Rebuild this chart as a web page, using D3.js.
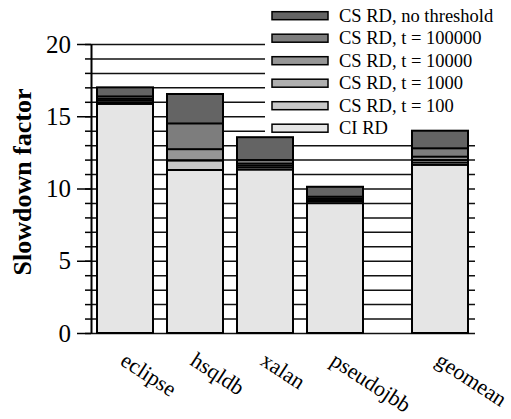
<!DOCTYPE html>
<html>
<head>
<meta charset="utf-8">
<script src="https://cdn.jsdelivr.net/npm/d3@7"></script>
<style>
  body { margin: 0; background: #fff; }
</style>
</head>
<body>
<div id="viz"></div>
<script>
var benchmarks = ["eclipse", "hsqldb", "xalan", "pseudojbb", "geomean"];
var seriesNames = ["CS RD, no threshold", "CS RD, t = 100000", "CS RD, t = 10000",
                   "CS RD, t = 1000", "CS RD, t = 100", "CI RD"];

// slowdown of each configuration (bars are overlaid, tallest at the back)
var noThreshold = [17.0, 16.54, 13.55, 10.12, 14.0];
var t100000     = [16.37, 14.5, 11.97, 9.43, 12.78];
var t10000      = [16.2, 12.72, 11.72, 9.3, 12.2];
var t1000       = [16.08, 11.95, 11.58, 9.2, 11.97];
var t100        = [15.95, 11.93, 11.45, 9.1, 11.79];
var ciRD        = [15.85, 11.28, 11.3, 8.98, 11.63];

var yTicks = [0, 5, 10, 15, 20];

var series = [noThreshold, t100000, t10000, t1000, t100, ciRD];
var colors = ["#646464", "#7d7d7d", "#969696", "#afafaf", "#c8c8c8", "#e5e5e5"];

var FONT = "'Liberation Serif', 'Times New Roman', serif";
var width = 511, height = 419;

var svg = d3.select("#viz").append("svg")
    .attr("width", width)
    .attr("height", height)
    .style("font-family", FONT);

var y = d3.scaleLinear().domain([0, 20]).range([333, 44]);
var x = d3.scaleLinear().domain([-0.5, 5]).range([90, 475]);
var slot = function(i) { return i < 4 ? i : i + 0.5; };   // geomean sits after a half gap
var barW = 56;

// grid lines at every unit
svg.append("g")
    .attr("transform", "translate(91,0)")
    .call(d3.axisRight(y).tickValues(d3.range(0, 21)).tickSize(384).tickFormat(""))
    .call(function(g) { g.select(".domain").remove(); })
    .selectAll("line").attr("stroke", "#111").attr("stroke-width", 1.5);

// minor ticks
svg.append("g")
    .attr("transform", "translate(91,0)")
    .call(d3.axisLeft(y).tickValues(d3.range(0, 21)).tickSize(6).tickFormat(""))
    .call(function(g) { g.select(".domain").remove(); })
    .selectAll("line").attr("stroke-width", 1.5);

// major ticks + labels
var yAxis = svg.append("g")
    .attr("transform", "translate(91,0)")
    .call(d3.axisLeft(y).tickValues(yTicks).tickSize(14).tickSizeOuter(0).tickPadding(6));
yAxis.attr("font-family", null);
yAxis.select(".domain").attr("stroke-width", 2);
yAxis.selectAll("line").attr("stroke-width", 1.5);
yAxis.selectAll("text")
    .style("font-family", FONT)
    .style("font-size", "25px");

svg.append("text")
    .attr("transform", "translate(31,182) rotate(-90)")
    .attr("text-anchor", "middle")
    .style("font-family", FONT)
    .style("font-size", "26px")
    .style("font-weight", "bold")
    .text("Slowdown factor");

// legend background hides the grid
var legend = svg.append("g");
legend.append("rect")
    .attr("x", 265).attr("y", 0)
    .attr("width", 246).attr("height", 137)
    .attr("fill", "#fff");

// bars
series.forEach(function(vals, s) {
    svg.append("g").selectAll("rect")
        .data(vals)
        .enter().append("rect")
            .attr("x", function(d, i) { return x(slot(i)) - barW / 2; })
            .attr("y", function(d) { return y(d); })
            .attr("width", barW)
            .attr("height", function(d) { return y(0) - y(d); })
            .attr("fill", colors[s])
            .attr("stroke", "#000")
            .attr("stroke-width", 2);
});

// legend entries
var entries = legend.selectAll("g.entry")
    .data(seriesNames)
    .enter().append("g")
        .attr("class", "entry")
        .attr("transform", function(d, i) { return "translate(0," + (15.7 + 22.5 * i) + ")"; });

entries.append("rect")
    .attr("x", 272).attr("y", -4)
    .attr("width", 56).attr("height", 8)
    .attr("fill", function(d, i) { return colors[i]; })
    .attr("stroke", "#000")
    .attr("stroke-width", 1.5);

entries.append("text")
    .attr("x", 339)
    .attr("dy", "0.33em")
    .style("font-family", FONT)
    .style("font-size", "18.5px")
    .text(function(d) { return d; });

// category labels
svg.append("g").selectAll("text")
    .data(benchmarks)
    .enter().append("text")
        .attr("transform", function(d, i) {
            return "translate(" + (x(slot(i)) - 6) + ",364) rotate(33)";
        })
        .style("font-family", FONT)
        .style("font-size", "22px")
        .text(function(d) { return d; });
</script>
</body>
</html>
